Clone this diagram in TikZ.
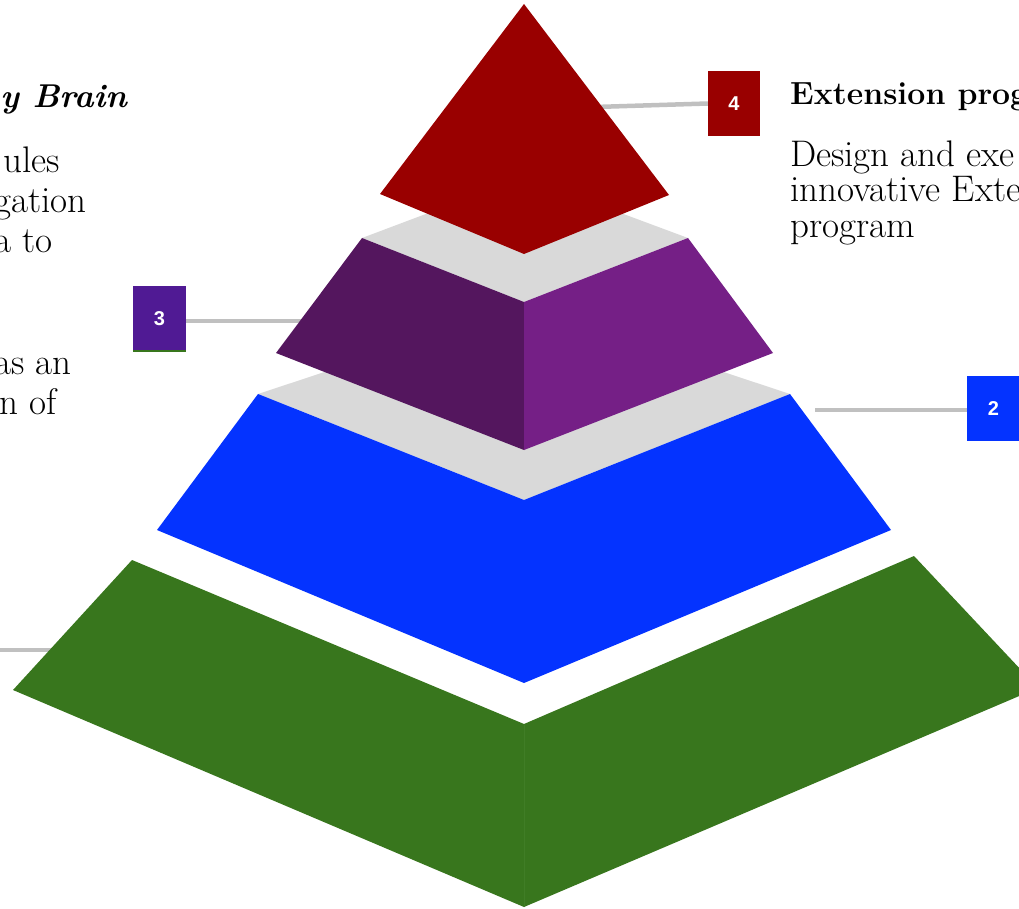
\documentclass[tikz,border=0pt]{standalone}
\usepackage{fontspec}
\newfontfamily\numfont{Liberation Sans}
\definecolor{cred}{HTML}{990000}
\definecolor{cpurL}{HTML}{54165E}
\definecolor{cpurR}{HTML}{751F86}
\definecolor{cbox3}{HTML}{501A94}
\definecolor{cblue}{HTML}{0433FF}
\definecolor{cgreen}{HTML}{38761D}
\definecolor{cgreenseam}{HTML}{407D26}
\definecolor{cgrayface}{HTML}{D9D9D9}
\definecolor{cconn}{HTML}{C0C0C0}
\begin{document}
\begin{tikzpicture}[x=1pt,y=-1pt]
\tikzset{
  conn/.style={draw=cconn, line width=4.5pt},
  numbox/.style={minimum width=52pt, minimum height=65pt, inner sep=0pt, text=white,
    font=\numfont\fontsize{20}{20}\selectfont\bfseries},
  bodyL/.style={inner sep=0pt, anchor=base east, font=\fontsize{37}{40}\selectfont},
  bodyR/.style={inner sep=0pt, anchor=base west, font=\fontsize{37}{40}\selectfont},
  titleL/.style={inner sep=0pt, anchor=base east, font=\fontsize{33}{36}\selectfont\bfseries\itshape},
  titleR/.style={inner sep=0pt, anchor=base west, font=\fontsize{32}{36}\selectfont\bfseries},
}
\useasboundingbox (0,0) rectangle (1019,909);
\clip (0,0) rectangle (1019,909);

% number boxes
\node[numbox, fill=cred] (b4) at (734,103.5) {4};
\node[numbox, fill=cbox3, minimum width=53pt] (b3) at (159.5,318.5) {3};
\draw[cgreen, line width=1.5pt] (b3.south west) -- (b3.south east);
\node[numbox, fill=cblue, minimum width=53pt] (b2) at (993.5,408.5) {2};

% connector ends
\coordinate (c4) at (595,107);
\coordinate (c3) at (310,321);
\coordinate (c2) at (815,410);
\coordinate (c1a) at (0,650);
\coordinate (c1b) at (60,650);

\draw[conn] (b4.west) -- (c4);
\draw[conn] (b3.east |- c3) -- (c3);
\draw[conn] (c2) -- (b2.west |- c2);
\draw[conn] (c1a) -- (c1b);

% level 1 (green)
\fill[cgreen] (13,690) -- (132,560) -- (524,724) -- (524,907) -- cycle;
\fill[cgreen] (524,724) -- (914,556) -- (1038,688) -- (524,907) -- cycle;
\draw[cgreenseam, line width=0.6pt] (524,724.5) -- (524,906.5);

% level 2 (blue)
\fill[cgrayface] (258,394) -- (524,306) -- (790,394) -- (524,500) -- cycle;
\fill[cblue] (258,394) -- (524,500) -- (790,394) -- (891,530) -- (524,683) -- (157,530) -- cycle;

% level 3 (purple)
\fill[cgrayface] (362,238) -- (524,177) -- (688,238) -- (524,302) -- cycle;
\fill[cpurL] (362,238) -- (524,302) -- (524,450) -- (276,353) -- cycle;
\fill[cpurR] (524,302) -- (688,238) -- (773,353) -- (524,450) -- cycle;

% level 4 (red)
\fill[cred] (524,4) -- (669,195) -- (524,254) -- (380,194) -- cycle;

% left text
\node[titleL] (tl0) at (127,108) {y Brain};
\node[bodyL] (tl1) at (60,173) {ules};
\node[bodyL] (tl2) at (87,213) {gation};
\node[bodyL] (tl3) at (53,253) {a to};
\node[bodyL] (tl4) at (72,374) {as an};
\node[bodyL] (tl5) at (57,414) {n of};

% right text
\node[titleR] (tr0) at (790,105) {Extension prog};
\node[bodyR] (tr1) at (790,167) {Design and exe};
\node[bodyR] (tr2) at (790,202) {innovative Exte};
\node[bodyR] (tr3) at (790,237) {program};
\end{tikzpicture}
\end{document}
